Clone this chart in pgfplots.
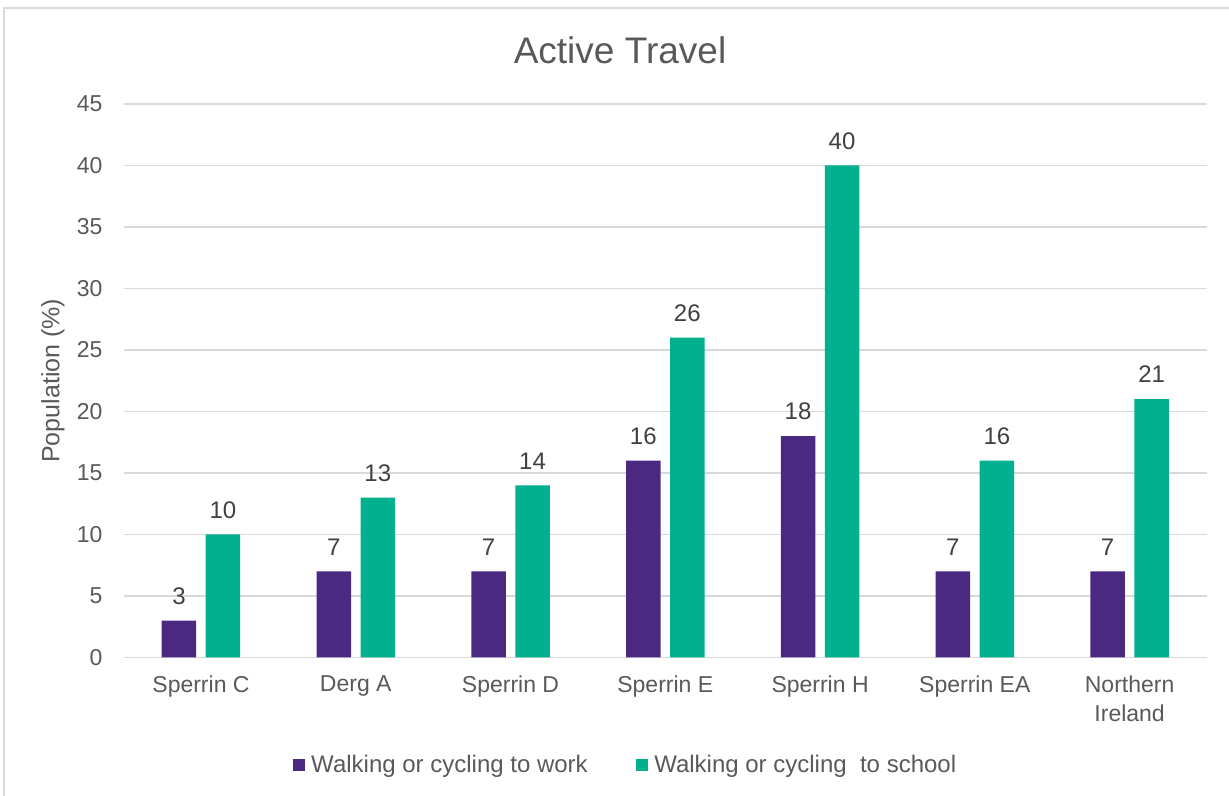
\documentclass[border=0pt]{standalone}
\usepackage{pgfplots}
\pgfplotsset{compat=1.18}
\usepackage{fontspec}
\setmainfont{Liberation Sans}
\definecolor{cPurple}{HTML}{4B2882}
\definecolor{cTeal}{HTML}{00B08F}
\definecolor{cText}{HTML}{595959}
\definecolor{cLabel}{HTML}{404040}
\definecolor{cGrid}{HTML}{D9D9D9}
\begin{document}
\begin{tikzpicture}[x=1bp,y=1bp]
\path[use as bounding box] (0,0) rectangle (1229,796);
\draw[cGrid, line width=2bp] (4,0) -- (4,787.5) -- (1235,787.5);
\node[anchor=base, text=cText, font=\fontsize{37bp}{44bp}\selectfont] at (620,732) {Active Travel};
\begin{axis}[
  at={(123.6bp,138.5bp)}, anchor=south west,
  scale only axis, width=1083.4bp, height=553.5bp,
  xmin=-0.5, xmax=6.5, ymin=0, ymax=45,
  ybar, bar width=34.5bp, ybar=9.5bp,
  xtick={0,...,6},
  xticklabels={Sperrin C, Derg A, Sperrin D, Sperrin E, Sperrin H, Sperrin EA, {Northern\\Ireland}},
  ytick={0,5,...,45},
  major tick length=0pt,
  axis x line*=bottom, axis y line*=left,
  x axis line style={cGrid, line width=1.3bp, -},
  y axis line style={draw=none, -},
  ymajorgrids, grid style={cGrid, line width=1.3bp},
  xticklabel style={align=center, anchor=north, inner sep=0pt, yshift=-18bp, text=cText, font=\fontsize{23bp}{29bp}\selectfont},
  yticklabel style={anchor=east, inner sep=0pt, xshift=-21bp, text=cText, font=\fontsize{23bp}{27bp}\selectfont},
  /pgf/number format/assume math mode=true,
  ylabel={Population (\%)},
  every axis y label/.style={at={(axis description cs:-0.0652,0.5)}, rotate=90, anchor=center, text=cText, font=\fontsize{25bp}{30bp}\selectfont},
  nodes near coords,
  every node near coord/.append style={anchor=south, inner sep=0pt, yshift=16bp, text=cLabel, font=\fontsize{24bp}{28bp}\selectfont},
  legend columns=2,
  legend style={at={(axis description cs:0.4623,-0.1942)}, anchor=center, draw=none, fill=none,
    font=\fontsize{24bp}{28bp}\selectfont, text=cText,
    nodes={inner sep=0pt},
    /tikz/every odd column/.append style={column sep=6bp},
    /tikz/every even column/.append style={column sep=48bp}},
  legend image code/.code={\path[#1, draw=none] (0bp,-6.25bp) rectangle (12.5bp,6.25bp);},
]
\addplot[fill=cPurple, draw=none] coordinates {(0,3) (1,7) (2,7) (3,16) (4,18) (5,7) (6,7)};
\addplot[fill=cTeal, draw=none] coordinates {(0,10) (1,13) (2,14) (3,26) (4,40) (5,16) (6,21)};
\legend{Walking or cycling to work, Walking or cycling\ \ to school}
\end{axis}
\end{tikzpicture}
\end{document}
